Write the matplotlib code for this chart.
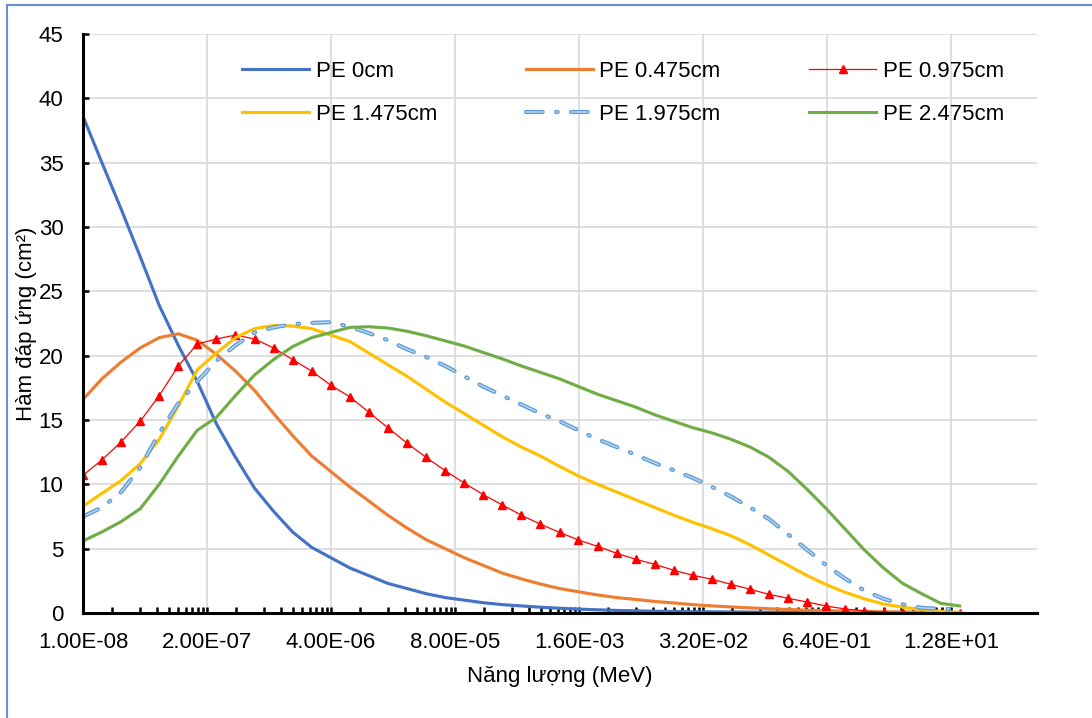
"""
Response functions of a PE-moderated detector versus neutron energy.
"""
import numpy as np
import matplotlib.pyplot as plt
import matplotlib.patheffects as pe
from matplotlib.patches import Rectangle
from matplotlib.ticker import FixedLocator, FuncFormatter, NullFormatter

plt.rcParams['font.family'] = ['Liberation Sans', 'DejaVu Sans']

# energy grid (MeV), 5 points per decade
energy = [
    1.00e-08, 1.58e-08, 2.51e-08, 3.98e-08, 6.31e-08,
    1.00e-07, 1.58e-07, 2.51e-07, 3.98e-07, 6.31e-07,
    1.00e-06, 1.58e-06, 2.51e-06, 3.98e-06, 6.31e-06,
    1.00e-05, 1.58e-05, 2.51e-05, 3.98e-05, 6.31e-05,
    1.00e-04, 1.58e-04, 2.51e-04, 3.98e-04, 6.31e-04,
    1.00e-03, 1.58e-03, 2.51e-03, 3.98e-03, 6.31e-03,
    1.00e-02, 1.58e-02, 2.51e-02, 3.98e-02, 6.31e-02,
    1.00e-01, 1.58e-01, 2.51e-01, 3.98e-01, 6.31e-01,
    1.00e+00, 1.58e+00, 2.51e+00, 3.98e+00, 6.31e+00,
    1.00e+01, 1.58e+01,
]

pe_0 = [
    38.6, 35.0, 31.4, 27.7, 23.9, 20.8, 18.0, 14.7, 12.1, 9.7,
    7.9, 6.3, 5.1, 4.3, 3.5, 2.9, 2.3, 1.9, 1.5, 1.2,
    1.0, 0.8, 0.65, 0.55, 0.45, 0.37, 0.3, 0.25, 0.2, 0.17,
    0.14, 0.12, 0.1, 0.09, 0.08, 0.07, 0.06, 0.05, 0.04, 0.04,
    0.03, 0.03, 0.02, 0.02, 0.02, 0.01, 0.01,
]
pe_0475 = [
    16.6, 18.2, 19.5, 20.6, 21.4, 21.7, 21.2, 20.1, 18.8, 17.3,
    15.5, 13.8, 12.2, 11.0, 9.8, 8.7, 7.6, 6.6, 5.7, 5.0,
    4.3, 3.7, 3.1, 2.65, 2.25, 1.9, 1.65, 1.4, 1.2, 1.05,
    0.9, 0.78, 0.65, 0.55, 0.47, 0.4, 0.33, 0.27, 0.22, 0.18,
    0.15, 0.12, 0.1, 0.08, 0.06, 0.05, 0.04,
]
pe_0975 = [
    10.7, 11.9, 13.3, 14.9, 16.9, 19.2, 20.9, 21.3, 21.6, 21.3,
    20.6, 19.7, 18.8, 17.7, 16.8, 15.6, 14.4, 13.2, 12.1, 11.06,
    10.1, 9.2, 8.4, 7.6, 6.9, 6.27, 5.67, 5.18, 4.64, 4.17,
    3.78, 3.32, 2.93, 2.62, 2.23, 1.84, 1.45, 1.14, 0.85, 0.54,
    0.31, 0.16, 0.05, 0.03, 0.02, 0.01, 0.01,
]
pe_1475 = [
    8.3, 9.3, 10.3, 11.6, 13.5, 16.1, 18.9, 20.2, 21.4, 22.1,
    22.35, 22.3, 22.1, 21.6, 21.1, 20.2, 19.3, 18.4, 17.4, 16.4,
    15.5, 14.6, 13.7, 12.9, 12.2, 11.4, 10.65, 10.0, 9.4, 8.8,
    8.2, 7.6, 7.05, 6.55, 6.0, 5.3, 4.5, 3.7, 2.9, 2.2,
    1.6, 1.1, 0.7, 0.45, 0.25, 0.12, 0.05,
]
pe_1975 = [
    7.5, 8.2, 9.4, 11.3, 14.0, 16.3, 18.0, 19.6, 20.8, 21.8,
    22.2, 22.45, 22.55, 22.6, 22.25, 21.75, 21.2, 20.5, 19.9, 19.2,
    18.4, 17.6, 16.9, 16.2, 15.5, 14.9, 14.2, 13.5, 12.9, 12.3,
    11.65, 11.1, 10.5, 9.8, 9.05, 8.2, 7.3, 6.1, 4.9, 3.7,
    2.65, 1.75, 1.1, 0.68, 0.4, 0.32, 0.28,
]
pe_2475 = [
    5.6, 6.3, 7.1, 8.1, 10.0, 12.2, 14.2, 15.2, 16.9, 18.5,
    19.7, 20.7, 21.4, 21.8, 22.2, 22.25, 22.15, 21.9, 21.55, 21.15,
    20.75, 20.25, 19.75, 19.2, 18.7, 18.2, 17.6, 17.0, 16.5, 16.0,
    15.4, 14.9, 14.4, 14.0, 13.5, 12.9, 12.1, 11.0, 9.6, 8.1,
    6.5, 4.9, 3.5, 2.3, 1.5, 0.75, 0.55,
]

# Excel-style log axis with base 20
major_ticks = [1e-8 * 20 ** n for n in range(8)]
minor_ticks = [m * 2 * k / 20 for m in major_ticks for k in range(1, 10)]
minor_ticks += [m * 20 for m in major_ticks[-1:]]

fig = plt.figure(figsize=(10.92, 7.18), dpi=100)
ax = fig.add_axes([83 / 1092, 1 - 613 / 718, (1037 - 83) / 1092, (613 - 34) / 718])

# outer chart border
fig.patches.append(Rectangle((7 / 1092, -0.1), 1.2, 1 - 5 / 718 + 0.1,
                             transform=fig.transFigure, fill=False,
                             edgecolor='#6A8FD0', linewidth=1.5))

ax.plot(energy, pe_0, color='#4472C4', lw=2.25, label='PE 0cm')
ax.plot(energy, pe_0475, color='#ED7D31', lw=2.25, label='PE 0.475cm')
ax.plot(energy, pe_0975, color='#FF0000', lw=0.9, marker='^', ms=6,
        label='PE 0.975cm')
ax.plot(energy, pe_1475, color='#FFC000', lw=2.25, label='PE 1.475cm')
ax.plot(energy, pe_1975, color='#B4D1EE', lw=1.2, dashes=(10, 8, 1, 8),
        dash_capstyle='round', label='PE 1.975cm',
        path_effects=[pe.Stroke(linewidth=3.0, foreground='#5B9BD5'), pe.Normal()])
ax.plot(energy, pe_2475, color='#70AD47', lw=2.25, label='PE 2.475cm')

ax.set_xscale('log')
ax.set_xlim(1e-8, 12.8 * 8)
ax.set_ylim(0, 45)
ax.xaxis.set_major_locator(FixedLocator(major_ticks))
ax.xaxis.set_minor_locator(FixedLocator(minor_ticks))
ax.xaxis.set_major_formatter(FuncFormatter(lambda v, p: '{:.2E}'.format(v)))
ax.xaxis.set_minor_formatter(NullFormatter())
ax.set_yticks(range(0, 46, 5))

ax.grid(True, which='major', color='#D9D9D9', lw=1.2)
ax.set_axisbelow(True)
for side in ('top', 'right'):
    ax.spines[side].set_visible(False)
for side in ('left', 'bottom'):
    ax.spines[side].set_linewidth(2.2)
    ax.spines[side].set_color('black')

ax.tick_params(axis='both', which='both', direction='in', width=1.8,
               colors='black', labelsize=16)
ax.tick_params(axis='both', which='major', length=4)
ax.tick_params(axis='x', which='minor', length=4)
ax.tick_params(axis='x', which='major', pad=14)
ax.tick_params(axis='y', which='major', pad=14)

ax.set_xlabel('Năng lượng (MeV)', fontsize=16, labelpad=9)
ax.set_ylabel('Hàm đáp ứng (cm²)', fontsize=16, labelpad=1)

# legend filled row by row, three columns
handles, labels = ax.get_legend_handles_labels()
order = [0, 3, 1, 4, 2, 5]
ax.legend([handles[i] for i in order], [labels[i] for i in order],
          ncol=3, loc='upper left', bbox_to_anchor=(0.146, 0.988), frameon=False,
          fontsize=16, handlelength=3.0, handletextpad=0.3, columnspacing=4.0,
          labelspacing=1.0)

plt.savefig('out.png', dpi=100)
